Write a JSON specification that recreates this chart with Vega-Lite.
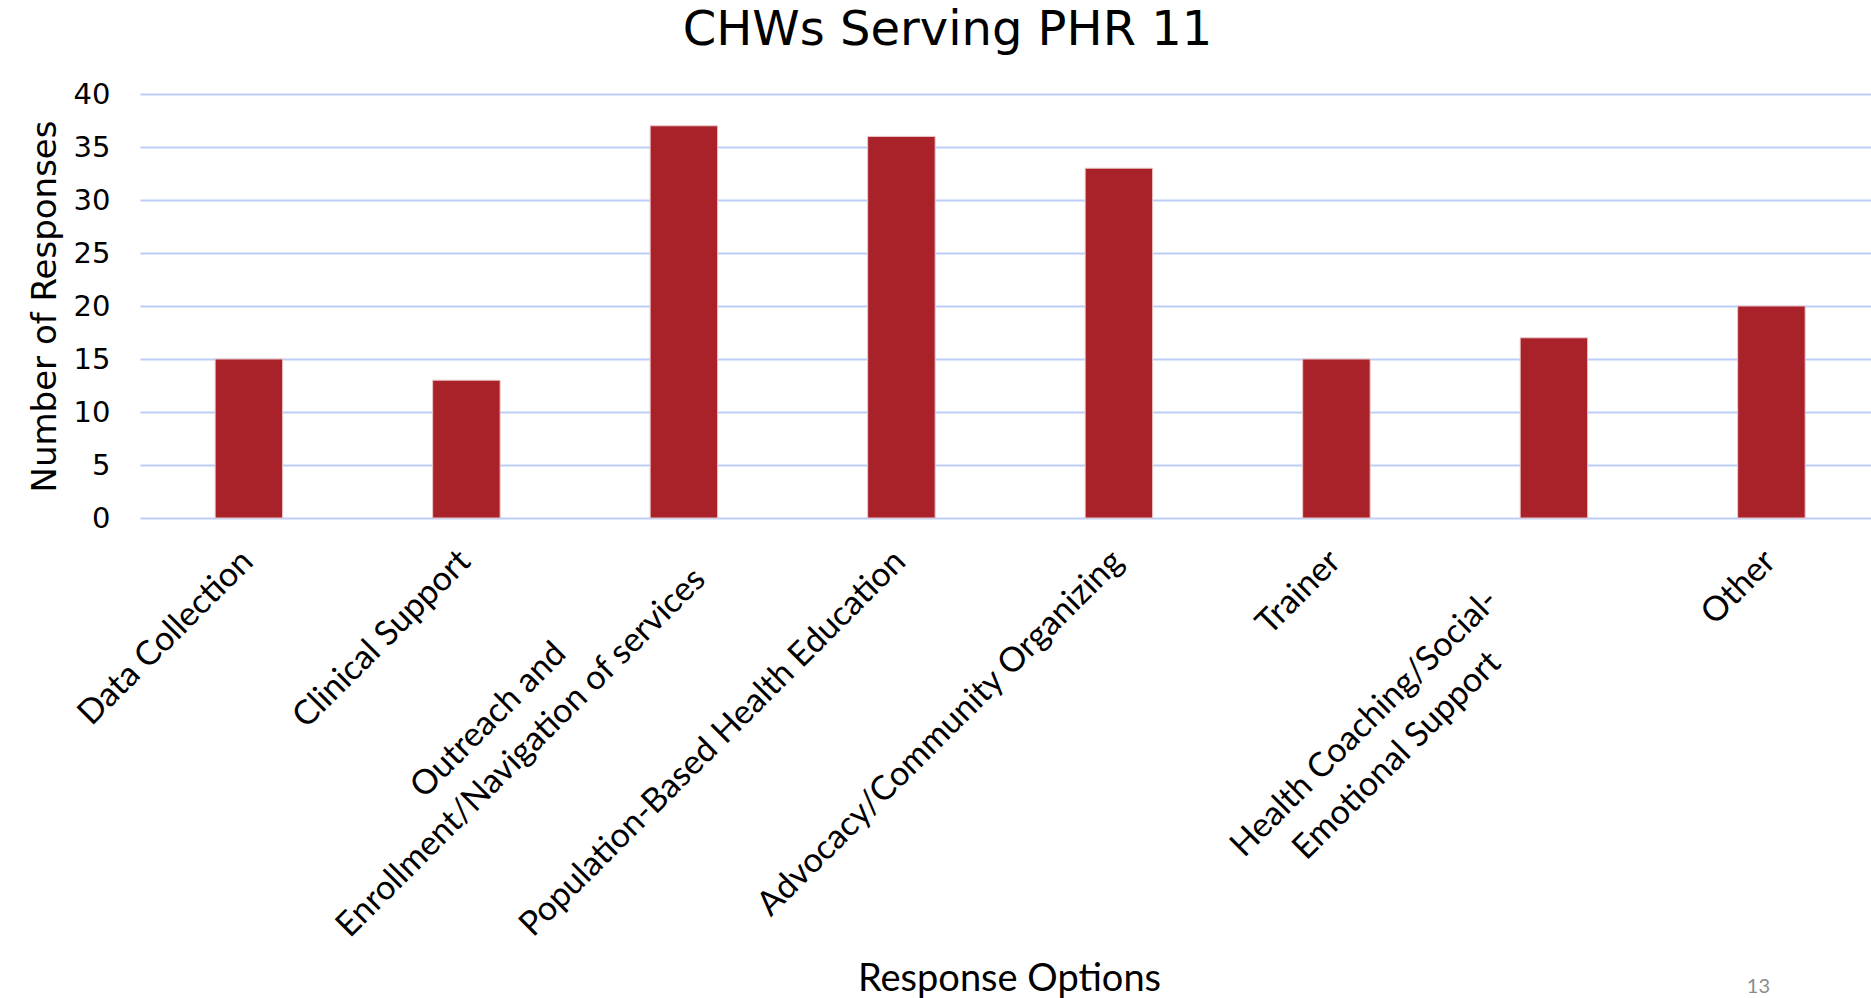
{
  "$schema": "https://vega.github.io/schema/vega-lite/v6.json",
  "width": 1731,
  "height": 424,
  "autosize": {"type": "none"},
  "padding": {"left": 140, "top": 94, "right": 0, "bottom": 480},
  "background": "#ffffff",
  "config": {"view": {"stroke": null}},
  "title": {
    "text": "CHWs Serving PHR 11",
    "font": "DejaVu Sans",
    "fontSize": 48,
    "fontWeight": "normal",
    "color": "#000000",
    "anchor": "middle",
    "frame": "group",
    "dx": -58,
    "baseline": "alphabetic",
    "offset": -13
  },
  "data": {
    "values": [
      {"option": "Data Collection", "responses": 15},
      {"option": "Clinical Support", "responses": 13},
      {"option": "Outreach and Enrollment/Navigation of services", "responses": 37},
      {"option": "Population-Based Health Education", "responses": 36},
      {"option": "Advocacy/Community Organizing", "responses": 33},
      {"option": "Trainer", "responses": 15},
      {"option": "Health Coaching/Social-Emotional Support", "responses": 17},
      {"option": "Other", "responses": 20}
    ]
  },
  "layer": [
    {
      "mark": {"type": "bar", "color": "#a9222a", "stroke": "#ecc8c9", "strokeWidth": 1},
      "encoding": {
        "x": {
          "field": "option",
          "type": "nominal",
          "sort": null,
          "scale": {"paddingInner": 0.6897, "paddingOuter": 0.3241, "align": 0.533},
          "title": "Response Options",
          "axis": {
            "domain": false,
            "ticks": false,
            "tickSize": 0,
            "grid": false,
            "labelAngle": -45,
            "labelFont": "Lato",
            "labelFontSize": 34,
            "labelColor": "#000000",
            "labelBaseline": "alphabetic",
            "labelAlign": {
              "condition": {"test": "datum.value == 'Outreach and Enrollment/Navigation of services' || datum.value == 'Health Coaching/Social-Emotional Support'", "value": "center"},
              "value": "right"
            },
            "labelPadding": {
              "condition": [
                {"test": "datum.value == 'Outreach and Enrollment/Navigation of services'", "value": 209},
                {"test": "datum.value == 'Health Coaching/Social-Emotional Support'", "value": 212}
              ],
              "value": 45
            },
            "labelOffset": {
              "condition": [
                {"test": "datum.value == 'Outreach and Enrollment/Navigation of services'", "value": -188},
                {"test": "datum.value == 'Health Coaching/Social-Emotional Support'", "value": -182}
              ],
              "value": 6
            },
            "labelExpr": "datum.value == 'Outreach and Enrollment/Navigation of services' ? ['Outreach and', 'Enrollment/Navigation of services'] : (datum.value == 'Health Coaching/Social-Emotional Support' ? ['Health Coaching/Social-', 'Emotional Support'] : datum.label)",
            "labelLineHeight": 46,
            "labelOverlap": false,
            "labelBound": false,
            "labelFlush": false,
            "labelLimit": 0,
            "titleFont": "Lato",
            "titleFontSize": 38,
            "titleFontWeight": "normal",
            "titleColor": "#000000",
            "titleBaseline": "alphabetic",
            "titleX": 869,
            "titleY": 472
          }
        },
        "y": {
          "field": "responses",
          "type": "quantitative",
          "scale": {"domain": [0, 40], "nice": false},
          "title": "Number of Responses",
          "axis": {
            "values": [0, 5, 10, 15, 20, 25, 30, 35, 40],
            "domain": false,
            "ticks": false,
            "tickSize": 0,
            "grid": true,
            "gridColor": "#bccdf7",
            "gridWidth": 2,
            "labelFont": "DejaVu Sans",
            "labelFontSize": 29,
            "labelColor": "#000000",
            "labelPadding": 30,
            "titleFont": "DejaVu Sans",
            "titleFontSize": 34,
            "titleFontWeight": "normal",
            "titleColor": "#000000",
            "titleBaseline": "middle",
            "titleX": -95,
            "titleY": 212
          }
        }
      }
    },
    {
      "data": {"values": [{"page": "13"}]},
      "mark": {"type": "text", "font": "Lato", "fontSize": 20, "color": "#8c8c8c", "align": "center", "baseline": "alphabetic", "dx": -13},
      "encoding": {
        "x": {"datum": "Other"},
        "y": {"datum": -44.8},
        "text": {"field": "page"}
      }
    }
  ]
}
